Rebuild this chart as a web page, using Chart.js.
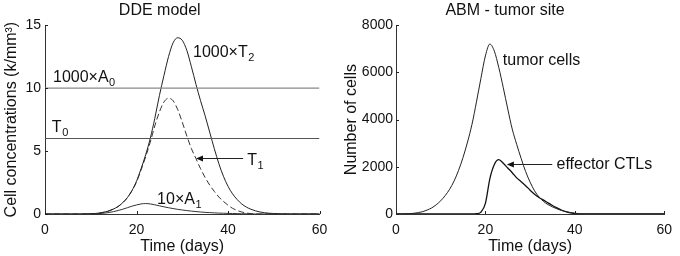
<!DOCTYPE html>
<html>
<head>
<meta charset="utf-8">
<script src="https://cdn.jsdelivr.net/npm/chart.js@4.4.1/dist/chart.umd.min.js"></script>
<style>
  body { margin: 0; background: #fff; }
  #wrap { position: relative; width: 680px; height: 256px; }
  canvas { position: absolute; top: 0; }
</style>
</head>
<body>
<div id="wrap">
  <canvas id="ddeChart" width="340" height="256" style="left:0"></canvas>
  <canvas id="abmChart" width="340" height="256" style="left:340px"></canvas>
</div>
<script>
// time axis (days)
var days = [0,1,2,3,4,5,6,7,8,9,10,11,12,13,14,15,16,17,18,19,20,
  21,22,23,24,25,26,27,28,29,30,31,32,33,34,35,36,37,38,39,40,
  41,42,43,44,45,46,47,48,49,50,51,52,53,54,55,56,57,58,59,60];

// DDE model (k/mm^3)
var t2x1000 = [0,0,0,0,0,0,0,0,0,0.01,0.02,0.04,0.08,0.15,0.25,0.4,0.6,0.9,1.3,1.85,2.6,
  3.6,4.7,6.0,7.6,9.4,11.0,12.5,13.6,14.0,13.8,13.0,11.7,10.3,9.0,7.8,6.5,5.2,4.0,3.0,2.2,
  1.6,1.15,0.8,0.55,0.38,0.25,0.16,0.1,0.06,0.04,0.02,0.01,0,0,0,0,0,0,0,0];
var t1 = [0,0,0,0,0,0,0,0,0,0.01,0.02,0.04,0.08,0.15,0.25,0.4,0.6,0.9,1.3,1.85,2.55,
  3.5,4.55,5.7,7.0,8.1,8.9,9.2,9.0,8.3,7.3,6.2,5.2,4.4,3.6,2.9,2.3,1.8,1.35,1.0,0.7,
  0.45,0.28,0.16,0.08,0.03,0,0,0,0,0,0,0,0,0,0,0,0,0,0,0];
var a1x10 = [0,0,0,0,0,0,0,0,0,0,0.01,0.02,0.04,0.07,0.12,0.19,0.28,0.38,0.5,0.62,0.72,
  0.8,0.83,0.8,0.73,0.65,0.57,0.5,0.43,0.37,0.32,0.27,0.23,0.19,0.16,0.13,0.11,0.09,0.07,0.06,0.05,
  0.04,0.03,0.02,0.02,0.01,0,0,0,0,0,0,0,0,0,0,0,0,0,0,0];
var a0x1000 = 10;
var t0 = 6;
var ddeTicks = [0, 5, 10, 15];

// ABM - tumor site (number of cells)
var tumorCells = [0,0,5,15,30,60,100,170,260,390,560,780,1050,1400,1850,2400,3050,3800,4750,5750,6700,
  7200,6900,6200,5350,4450,3600,2950,2350,1800,1350,980,720,530,400,300,220,150,100,65,35,
  10,0,0,0,0,0,0,0,0,0,0,0,0,0,0,0,0,0,0,0];
var effectorCTLs = [0,0,0,0,0,0,0,0,0,0,0,0,0,0,0,0,0,0,10,80,450,
  1500,2100,2300,2150,1950,1750,1530,1370,1200,1010,840,700,590,470,360,260,170,100,50,20,
  5,0,0,0,0,0,0,0,0,0,0,0,0,0,0,0,0,0,0,0];
var abmTicks = [0, 2000, 4000, 6000, 8000];
var timeTicks = [0, 20, 40, 60];

Chart.defaults.font.family = '"Liberation Sans", Arial, sans-serif';
Chart.defaults.font.size = 14;
Chart.defaults.color = '#111';

function pts(ys) {
  return days.map(function (d, i) { return { x: d, y: ys[i] }; });
}
function flat(v) {
  return [{ x: 0, y: v }, { x: 60, y: v }];
}

// text labels, arrows and MATLAB-style inward ticks
var annotate = {
  id: 'annotate',
  afterDatasetsDraw: function (chart, args, opts) {
    var ctx = chart.ctx, xs = chart.scales.x, ys = chart.scales.y;
    var area = chart.chartArea;
    ctx.save();
    ctx.strokeStyle = '#222';
    ctx.fillStyle = '#111';
    ctx.lineWidth = 1;
    ctx.beginPath();
    xs.ticks.forEach(function (t) {
      var p = Math.round(xs.getPixelForValue(t.value)) + 0.5;
      ctx.moveTo(p, area.bottom); ctx.lineTo(p, area.bottom - 3);
    });
    ys.ticks.forEach(function (t) {
      var p = Math.round(ys.getPixelForValue(t.value)) + 0.5;
      ctx.moveTo(area.left, p); ctx.lineTo(area.left + 3, p);
    });
    ctx.stroke();

    (opts.labels || []).forEach(function (l) {
      var px = xs.getPixelForValue(l.x), py = ys.getPixelForValue(l.y);
      ctx.textAlign = 'left';
      ctx.textBaseline = 'alphabetic';
      ctx.font = '16px "Liberation Sans", Arial, sans-serif';
      ctx.fillText(l.text, px, py);
      if (l.sub) {
        px += ctx.measureText(l.text).width;
        ctx.font = '11px "Liberation Sans", Arial, sans-serif';
        ctx.fillText(l.sub, px + 0.5, py + 4);
      }
    });
    (opts.arrows || []).forEach(function (a) {
      var x1 = xs.getPixelForValue(a.from[0]), y1 = Math.round(ys.getPixelForValue(a.from[1])) + 0.5;
      var x2 = xs.getPixelForValue(a.to[0]);
      ctx.beginPath();
      ctx.moveTo(x1, y1); ctx.lineTo(x2 + 5, y1);
      ctx.stroke();
      ctx.beginPath();
      ctx.moveTo(x2, y1); ctx.lineTo(x2 + 7, y1 - 3); ctx.lineTo(x2 + 7, y1 + 3);
      ctx.closePath();
      ctx.fill();
    });
    ctx.restore();
  }
};

function makeOptions(cfg) {
  return {
    responsive: false,
    animation: false,
    devicePixelRatio: 1,
    layout: { padding: { top: 0, right: cfg.padRight, left: 0, bottom: 0 } },
    elements: { point: { radius: 0 } },
    plugins: {
      legend: { display: false },
      tooltip: { enabled: false },
      title: {
        display: true,
        text: cfg.title,
        font: { size: 16, weight: 'normal' },
        color: '#111',
        padding: { top: 1, bottom: 5 }
      },
      annotate: { labels: cfg.labels, arrows: cfg.arrows }
    },
    scales: {
      x: {
        type: 'linear',
        min: 0, max: 60,
        afterBuildTicks: function (s) { s.ticks = timeTicks.map(function (v) { return { value: v }; }); },
        afterFit: function (s) { s.height = 42; },
        grid: { display: false, drawTicks: false },
        border: { display: true, color: '#333', width: 1 },
        ticks: { padding: 8, maxRotation: 0, callback: function (v) { return String(v); } },
        title: { display: true, text: 'Time (days)', font: { size: 16 }, color: '#111', padding: { top: 0, bottom: 0 } }
      },
      y: {
        type: 'linear',
        min: cfg.yMin, max: cfg.yMax,
        afterBuildTicks: function (s) { s.ticks = cfg.yTicks.map(function (v) { return { value: v }; }); },
        afterFit: function (s) { s.width = cfg.yWidth; },
        grid: { display: false, drawTicks: false },
        border: { display: true, color: '#333', width: 1 },
        ticks: { padding: cfg.tickPad, callback: function (v) { return String(v); } },
        title: { display: true, text: cfg.yTitle, font: { size: 16 }, color: '#111', padding: { top: 2, bottom: 0 } }
      }
    }
  };
}

var ddeChart = new Chart(document.getElementById('ddeChart').getContext('2d'), {
  type: 'line',
  data: {
    datasets: [
      { label: '1000xA0', data: flat(a0x1000), borderColor: '#8a8a8a', borderWidth: 1.2 },
      { label: 'T0', data: flat(t0), borderColor: '#555', borderWidth: 1.2 },
      { label: '1000xT2', data: pts(t2x1000), borderColor: '#222', borderWidth: 1, cubicInterpolationMode: 'monotone' },
      { label: 'T1', data: pts(t1), borderColor: '#333', borderWidth: 1, borderDash: [6, 3], cubicInterpolationMode: 'monotone' },
      { label: '10xA1', data: pts(a1x10), borderColor: '#333', borderWidth: 1, cubicInterpolationMode: 'monotone' }
    ]
  },
  options: makeOptions({
    title: 'DDE model',
    yTitle: 'Cell concentrations (k/mm\u00b3)',
    yMin: 0, yMax: 15, yTicks: ddeTicks,
    yWidth: 45, tickPad: 4, padRight: 20.5,
    labels: [
      { x: 32.35, y: 12.45, text: '1000\u00d7T', sub: '2' },
      { x: 1.75, y: 10.5, text: '1000\u00d7A', sub: '0' },
      { x: 1.5, y: 6.55, text: 'T', sub: '0' },
      { x: 44.2, y: 3.9, text: 'T', sub: '1' },
      { x: 24.5, y: 0.8, text: '10\u00d7A', sub: '1' }
    ],
    arrows: [ { from: [43.3, 4.44], to: [33.0, 4.44] } ]
  }),
  plugins: [annotate]
});

var abmChart = new Chart(document.getElementById('abmChart').getContext('2d'), {
  type: 'line',
  data: {
    datasets: [
      { label: 'tumor cells', data: pts(tumorCells), borderColor: '#222', borderWidth: 1, cubicInterpolationMode: 'monotone' },
      { label: 'effector CTLs', data: pts(effectorCTLs), borderColor: '#111', borderWidth: 1.3, cubicInterpolationMode: 'monotone' }
    ]
  },
  options: makeOptions({
    title: 'ABM - tumor site',
    yTitle: 'Number of cells',
    yMin: 0, yMax: 8000, yTicks: abmTicks,
    yWidth: 56, tickPad: 3, padRight: 10,
    labels: [
      { x: 23.9, y: 6330, text: 'tumor cells' },
      { x: 35.9, y: 1900, text: 'effector CTLs' }
    ],
    arrows: [ { from: [34.95, 2116], to: [24.8, 2116] } ]
  }),
  plugins: [annotate]
});
</script>
</body>
</html>
